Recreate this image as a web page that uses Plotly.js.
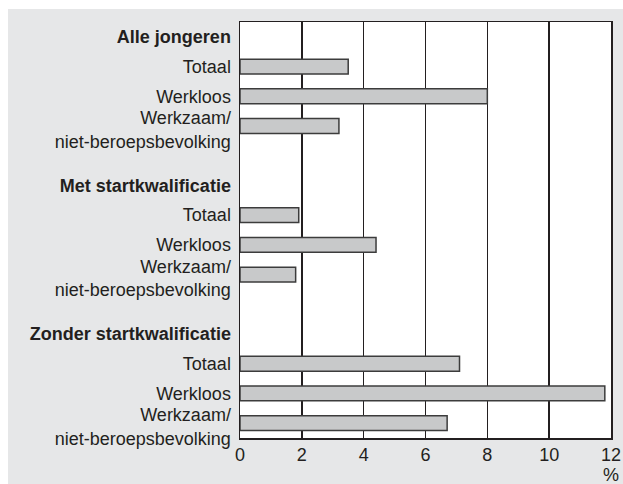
<!DOCTYPE html>
<html>
<head>
<meta charset="utf-8">
<script src="https://cdn.plot.ly/plotly-3.0.1.min.js"></script>
<style>
  html, body { margin: 0; padding: 0; background: #ffffff; }
  #chart { position: absolute; left: 8px; top: 9px; width: 615px; height: 475px; }
</style>
</head>
<body>
<div id="chart"></div>
<script>
// Data (percent)
const groups = ['Alle jongeren', 'Met startkwalificatie', 'Zonder startkwalificatie'];
const subcategories = ['Totaal', 'Werkloos', 'Werkzaam/<br>niet-beroepsbevolking'];
const alleJongeren = [3.5, 8.0, 3.2];
const metStartkwalificatie = [1.9, 4.4, 1.8];
const zonderStartkwalificatie = [7.1, 11.8, 6.7];
const xTicks = [0, 2, 4, 6, 8, 10, 12];
const unitLabel = '%';

const groupValues = [alleJongeren, metStartkwalificatie, zonderStartkwalificatie];

// Build row slots: header, three bars, blank spacer between groups
const ySlots = [];
const yLabels = [];
const barY = [];
const barX = [];
let slot = 0;
groups.forEach((g, gi) => {
  if (gi > 0) { slot++; }
  ySlots.push(slot); yLabels.push('<b>' + g + '</b>'); slot++;
  subcategories.forEach((s, si) => {
    // two-line labels sit slightly lower than their bar in the reference
    ySlots.push(s.indexOf('<br>') >= 0 ? slot + 0.12 : slot);
    yLabels.push(s);
    barY.push(slot); barX.push(groupValues[gi][si]);
    slot++;
  });
});

const ink = '#231f20';

const trace = {
  type: 'bar',
  orientation: 'h',
  x: barX,
  y: barY,
  width: 0.5,
  marker: { color: '#c8c9ca', line: { color: '#3c3c3c', width: 1.5 } },
  hoverinfo: 'x'
};

const layout = {
  width: 615,
  height: 475,
  paper_bgcolor: '#e6e7e8',
  plot_bgcolor: '#ffffff',
  margin: { l: 232, r: 12, t: 13, b: 46, pad: 0 },
  font: { family: '"Liberation Sans", Arial, Helvetica, sans-serif', size: 18, color: ink },
  showlegend: false,
  bargap: 0,
  xaxis: {
    range: [0, 12],
    tickvals: xTicks,
    ticktext: xTicks.map(String),
    showgrid: true,
    gridcolor: ink,
    gridwidth: 1.5,
    zeroline: false,
    showline: true,
    mirror: true,
    linecolor: ink,
    linewidth: 1.5,
    ticks: '',
    tickfont: { size: 18, color: ink },
    fixedrange: true
  },
  yaxis: {
    range: [slot - 0.5, -0.5],
    tickvals: ySlots,
    ticktext: yLabels,
    showgrid: false,
    zeroline: false,
    showline: true,
    mirror: true,
    linecolor: ink,
    linewidth: 1.5,
    ticks: '',
    ticklabelstandoff: 4,
    tickfont: { size: 18, color: ink },
    fixedrange: true
  },
  annotations: [{
    text: unitLabel,
    xref: 'x', x: 12,
    yref: 'paper', y: 0,
    xanchor: 'center', yanchor: 'middle',
    yshift: -37,
    showarrow: false,
    font: { size: 18, color: ink }
  }]
};

Plotly.newPlot('chart', [trace], layout, { displayModeBar: false, staticPlot: true });
</script>
</body>
</html>
